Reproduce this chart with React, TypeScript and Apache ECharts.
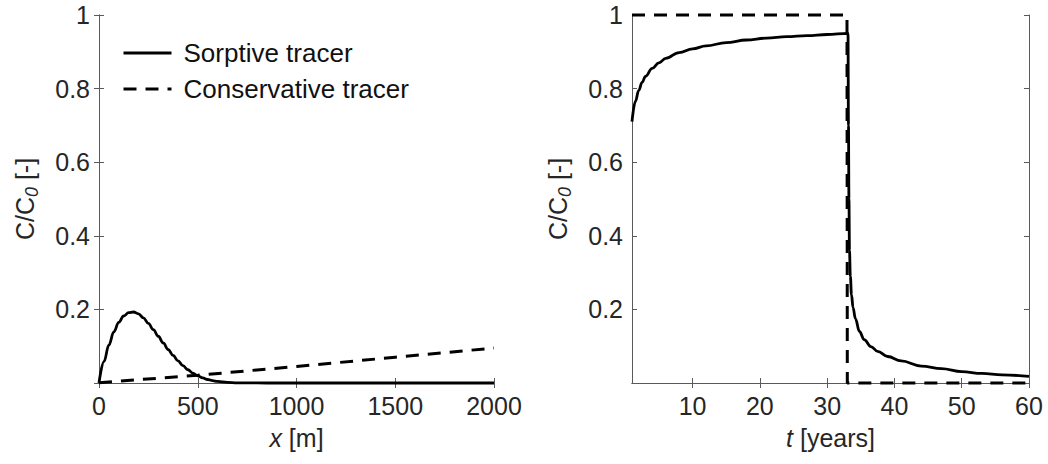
import React, { useEffect, useRef } from "react";
import * as echarts from "echarts";

// Left panel: concentration vs distance x [m]
const sorptiveX = [0, 25, 50, 75, 100, 125, 150, 175, 200, 225, 250, 275, 300, 325, 350, 375, 400, 425, 450, 475, 500, 525, 550, 575, 600, 650, 700, 800, 900, 2000];
const sorptiveY = [0, 0.058, 0.103, 0.139, 0.165, 0.182, 0.191, 0.193, 0.188, 0.177, 0.162, 0.145, 0.127, 0.109, 0.091, 0.075, 0.06, 0.047, 0.036, 0.027, 0.0195, 0.014, 0.0095, 0.0065, 0.0042, 0.0016, 0.0005, 0.0001, 0, 0];
const conservativeX = [0, 500, 1000, 1500, 2000];
const conservativeY = [0.001, 0.021, 0.045, 0.07, 0.095];

// Right panel: concentration vs time t [years]
const sorptiveT = [1, 1.5, 2, 2.5, 3, 4, 5, 6, 8, 10, 12, 15, 18, 21, 24, 27, 30, 33.1, 33.17, 33.24, 33.32, 33.45, 33.62, 33.85, 34.2, 34.8, 35.5, 36.5, 37.5, 39, 41, 44, 47, 50, 53, 56, 60];
const sorptiveC = [0.71, 0.765, 0.795, 0.817, 0.833, 0.855, 0.87, 0.882, 0.898, 0.908, 0.916, 0.925, 0.932, 0.937, 0.941, 0.944, 0.947, 0.95, 0.7, 0.5, 0.36, 0.29, 0.24, 0.205, 0.175, 0.14, 0.118, 0.099, 0.086, 0.072, 0.06, 0.046, 0.039, 0.031, 0.026, 0.022, 0.018];
const conservativeT = [1, 32.95, 33.0, 60];
const conservativeC = [1, 1, 0, 0];

const xTicksRight = [10, 20, 30, 40, 50, 60];

const FONT = "'Liberation Sans', Arial, sans-serif";
const TXT = "#262626";
const AX = "#5a5a5a";
const FS = 25;

const zip = (a: number[], b: number[]) => a.map((v, i) => [v, b[i]]);

export default function App() {
  const ref = useRef<HTMLDivElement>(null);
  useEffect(() => {
    if (!ref.current) return;
    const chart = echarts.init(ref.current, undefined, { renderer: "svg" });

    const yName = {
      name: "C/C{sub|0} [-]",
      nameLocation: "middle" as const,
      nameGap: 58,
      nameTextStyle: {
        fontFamily: FONT,
        fontSize: FS,
        color: TXT,
        lineHeight: 32,
        rich: {
          sub: { fontFamily: FONT, fontSize: 18, fontStyle: "italic", color: TXT, verticalAlign: "bottom", lineHeight: 18 },
        },
      },
    };

    const primaryY = (gridIndex: number) => ({
      type: "value" as const,
      gridIndex,
      min: 0,
      max: 1,
      interval: 0.2,
      ...yName,
      axisLine: { show: true, lineStyle: { color: AX, width: 1 } },
      axisTick: { show: true, inside: true, length: 5, lineStyle: { color: AX } },
      splitLine: { show: false },
      axisLabel: {
        fontFamily: FONT,
        fontSize: FS,
        color: TXT,
        margin: 9,
        formatter: (v: number) => (v === 0 ? "" : String(+v.toFixed(1))),
      },
    });

    const mirrorY = (gridIndex: number) => ({
      type: "value" as const,
      gridIndex,
      position: "right" as const,
      min: 0,
      max: 1,
      interval: 0.2,
      axisLine: { show: true, lineStyle: { color: AX, width: 1 } },
      axisTick: { show: true, inside: true, length: 5, lineStyle: { color: AX } },
      splitLine: { show: false },
      axisLabel: { show: false },
    });

    const xName = (italic: string, rest: string) => ({
      name: `{i|${italic}} ${rest}`,
      nameLocation: "middle" as const,
      nameGap: 42,
      nameTextStyle: {
        fontFamily: FONT,
        fontSize: FS,
        color: TXT,
        rich: { i: { fontFamily: FONT, fontSize: FS, fontStyle: "italic", color: TXT } },
      },
    });

    const plain = (v: number) => String(v);

    const option: any = {
      animation: false,
      backgroundColor: "#ffffff",
      grid: [
        { left: 99, top: 15, width: 395, height: 368 },
        { left: 632, top: 15, width: 397, height: 368 },
      ],
      legend: {
        data: ["Sorptive tracer", "Conservative tracer"],
        orient: "vertical",
        left: 117,
        top: 35,
        itemWidth: 48,
        itemHeight: 24,
        itemGap: 10,
        itemStyle: { opacity: 0, borderWidth: 0 },
        lineStyle: { width: "inherit", type: "inherit", opacity: 1 },
        textStyle: { fontFamily: FONT, fontSize: 26, color: "#111", padding: [0, 0, 0, 7] },
      },
      xAxis: [
        {
          type: "value",
          gridIndex: 0,
          min: 0,
          max: 2000,
          interval: 500,
          ...xName("x", "[m]"),
          axisLine: { show: true, lineStyle: { color: AX, width: 1 } },
          axisTick: { show: true, inside: true, length: 5, lineStyle: { color: AX } },
          splitLine: { show: false },
          axisLabel: { fontFamily: FONT, fontSize: FS, color: TXT, margin: 10, formatter: plain },
        },
        {
          type: "value",
          gridIndex: 0,
          position: "top",
          min: 0,
          max: 2000,
          interval: 500,
          axisLine: { show: true, lineStyle: { color: AX, width: 1 } },
          axisTick: { show: true, inside: true, length: 5, lineStyle: { color: AX } },
          splitLine: { show: false },
          axisLabel: { show: false },
        },
        {
          type: "value",
          gridIndex: 1,
          min: 1,
          max: 60,
          ...xName("t", "[years]"),
          axisLine: { show: true, lineStyle: { color: AX, width: 1 } },
          axisTick: { show: true, inside: true, length: 5, lineStyle: { color: AX }, customValues: xTicksRight },
          splitLine: { show: false },
          axisLabel: { fontFamily: FONT, fontSize: FS, color: TXT, margin: 10, customValues: xTicksRight, formatter: plain },
        },
        {
          type: "value",
          gridIndex: 1,
          position: "top",
          min: 1,
          max: 60,
          axisLine: { show: true, lineStyle: { color: AX, width: 1 } },
          axisTick: { show: true, inside: true, length: 5, lineStyle: { color: AX }, customValues: xTicksRight },
          splitLine: { show: false },
          axisLabel: { show: false, customValues: xTicksRight },
        },
      ],
      yAxis: [primaryY(0), mirrorY(0), primaryY(1), mirrorY(1)],
      series: [
        {
          name: "Sorptive tracer",
          type: "line",
          xAxisIndex: 0,
          yAxisIndex: 0,
          data: zip(sorptiveX, sorptiveY),
          smooth: 0.4,
          smoothMonotone: "x",
          symbol: "none",
          clip: false,
          lineStyle: { color: "#000", width: 2.8, type: "solid" },
          itemStyle: { color: "#000" },
        },
        {
          name: "Conservative tracer",
          type: "line",
          xAxisIndex: 0,
          yAxisIndex: 0,
          data: zip(conservativeX, conservativeY),
          smooth: false,
          symbol: "none",
          clip: false,
          lineStyle: { color: "#000", width: 3, type: [13, 9] },
          itemStyle: { color: "#000" },
        },
        {
          name: "Sorptive tracer (t)",
          type: "line",
          xAxisIndex: 2,
          yAxisIndex: 2,
          data: zip(sorptiveT, sorptiveC),
          smooth: 0.4,
          smoothMonotone: "x",
          symbol: "none",
          clip: false,
          lineStyle: { color: "#000", width: 2.8, type: "solid" },
        },
        {
          name: "Conservative tracer (t)",
          type: "line",
          xAxisIndex: 2,
          yAxisIndex: 2,
          data: zip(conservativeT, conservativeC),
          symbol: "none",
          clip: false,
          lineStyle: { color: "#000", width: 3, type: [13, 9] },
        },
      ],
    };

    chart.setOption(option);
    return () => chart.dispose();
  }, []);

  return (
    <div
      ref={ref}
      style={{ position: "fixed", left: 0, top: 0, width: 1048, height: 464, background: "#fff" }}
    />
  );
}
